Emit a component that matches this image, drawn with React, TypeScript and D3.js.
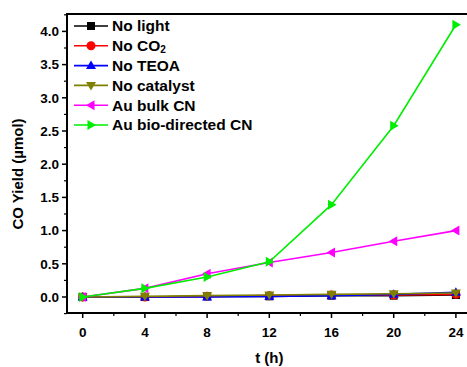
import React from "react";
import * as d3 from "d3";

const times = [0, 4, 8, 12, 16, 20, 24];
const noLight = [0, 0, 0.01, 0.01, 0.02, 0.02, 0.03];
const noCO2 = [0, 0, 0.01, 0.02, 0.03, 0.03, 0.04];
const noTEOA = [0, 0, 0.0, 0.01, 0.02, 0.04, 0.07];
const noCatalyst = [0, 0.01, 0.02, 0.03, 0.04, 0.05, 0.06];
const auBulk = [0, 0.13, 0.35, 0.52, 0.67, 0.84, 1.0];
const auBio = [0, 0.13, 0.3, 0.53, 1.39, 2.58, 4.1];

const xTicks = [0, 4, 8, 12, 16, 20, 24];
const yTicks = [0, 0.5, 1, 1.5, 2, 2.5, 3, 3.5, 4];

const series = [
  { name: "No light", values: noLight, color: "#000000", marker: "square" },
  { name: "No CO2", values: noCO2, color: "#ff0000", marker: "circle" },
  { name: "No TEOA", values: noTEOA, color: "#0000ff", marker: "up" },
  { name: "No catalyst", values: noCatalyst, color: "#808000", marker: "down" },
  { name: "Au bulk CN", values: auBulk, color: "#ff00ff", marker: "left" },
  { name: "Au bio-directed CN", values: auBio, color: "#00ee00", marker: "right" },
];

const W = 467, H = 367;
const left = 67, top = 14, bottom = 313;
const x = d3.scaleLinear().domain([0, 4]).range([82.7, 144.9]);
const y = d3.scaleLinear().domain([0, 0.5]).range([297, 263.8]);

function Marker({ type, cx, cy, color }: { type: string; cx: number; cy: number; color: string }) {
  const s = 4;
  if (type === "square") return <rect x={cx - s} y={cy - s} width={2 * s} height={2 * s} fill={color} />;
  if (type === "circle") return <circle cx={cx} cy={cy} r={s + 0.5} fill={color} />;
  let pts = "";
  const r = 5;
  if (type === "up") pts = `${cx},${cy - r} ${cx - r},${cy + r * 0.7} ${cx + r},${cy + r * 0.7}`;
  if (type === "down") pts = `${cx},${cy + r} ${cx - r},${cy - r * 0.7} ${cx + r},${cy - r * 0.7}`;
  if (type === "left") pts = `${cx - r},${cy} ${cx + r * 0.7},${cy - r} ${cx + r * 0.7},${cy + r}`;
  if (type === "right") pts = `${cx + r},${cy} ${cx - r * 0.7},${cy - r} ${cx - r * 0.7},${cy + r}`;
  return <polygon points={pts} fill={color} />;
}

export default function App() {
  const line = d3.line<number>().x((_, i) => x(times[i])).y((d) => y(d));
  const font = "Arial, 'Liberation Sans', sans-serif";
  const xMinor = d3.range(2, 26, 4);
  const yMinor = d3.range(-0.25, 4.3, 0.5);
  return (
    <svg width={W} height={H} style={{ position: "absolute", left: 0, top: 0 }} fontFamily={font}>
      <rect width={W} height={H} fill="#fff" />
      {series.map((s) => (
        <g key={s.name}>
          <path d={line(s.values) || ""} fill="none" stroke={s.color} strokeWidth={1.6} />
          {s.values.map((v, i) => (
            <Marker key={i} type={s.marker} cx={x(times[i])} cy={y(v)} color={s.color} />
          ))}
        </g>
      ))}
      {/* axes */}
      <line x1={left} y1={top} x2={left} y2={bottom + 1} stroke="#000" strokeWidth={2} />
      <line x1={left - 1} y1={bottom} x2={W + 5} y2={bottom} stroke="#000" strokeWidth={2} />
      <line x1={left - 1} y1={top} x2={W + 5} y2={top} stroke="#000" strokeWidth={2} />
      {yTicks.map((t) => (
        <g key={t}>
          <line x1={left - 5} x2={left} y1={y(t)} y2={y(t)} stroke="#000" strokeWidth={1.5} />
          <text x={left - 8} y={y(t)} dy="0.35em" textAnchor="end" fontSize={13.5} fontWeight="bold">
            {t.toFixed(1)}
          </text>
        </g>
      ))}
      {yMinor.map((t) => (
        <line key={t} x1={left - 3} x2={left} y1={y(t)} y2={y(t)} stroke="#000" strokeWidth={1.2} />
      ))}
      {xTicks.map((t) => (
        <g key={t}>
          <line x1={x(t)} x2={x(t)} y1={bottom} y2={bottom + 5} stroke="#000" strokeWidth={1.5} />
          <text x={x(t)} y={bottom + 19} dy="0.35em" textAnchor="middle" fontSize={13.5} fontWeight="bold">
            {t}
          </text>
        </g>
      ))}
      {xMinor.map((t) => (
        <line key={t} x1={x(t)} x2={x(t)} y1={bottom} y2={bottom + 3} stroke="#000" strokeWidth={1.2} />
      ))}
      <text x={x(12)} y={358} dy="0.35em" textAnchor="middle" fontSize={15} fontWeight="bold">
        t (h)
      </text>
      <text
        transform={`translate(18, 174) rotate(-90)`}
        textAnchor="middle"
        dy="0.35em"
        fontSize={15}
        fontWeight="bold"
      >
        CO Yield (µmol)
      </text>
      {/* legend */}
      {series.map((s, i) => {
        const ly = 26 + i * 19.8;
        return (
          <g key={s.name}>
            <line x1={74} x2={108} y1={ly} y2={ly} stroke={s.color} strokeWidth={1.6} />
            <Marker type={s.marker} cx={91} cy={ly} color={s.color} />
            <text x={112} y={ly} dy="0.35em" fontSize={15.5} fontWeight="bold">
              {s.name === "No CO2" ? (
                <>
                  No CO<tspan fontSize={10} dy="0.15em">2</tspan>
                </>
              ) : (
                s.name
              )}
            </text>
          </g>
        );
      })}
    </svg>
  );
}
